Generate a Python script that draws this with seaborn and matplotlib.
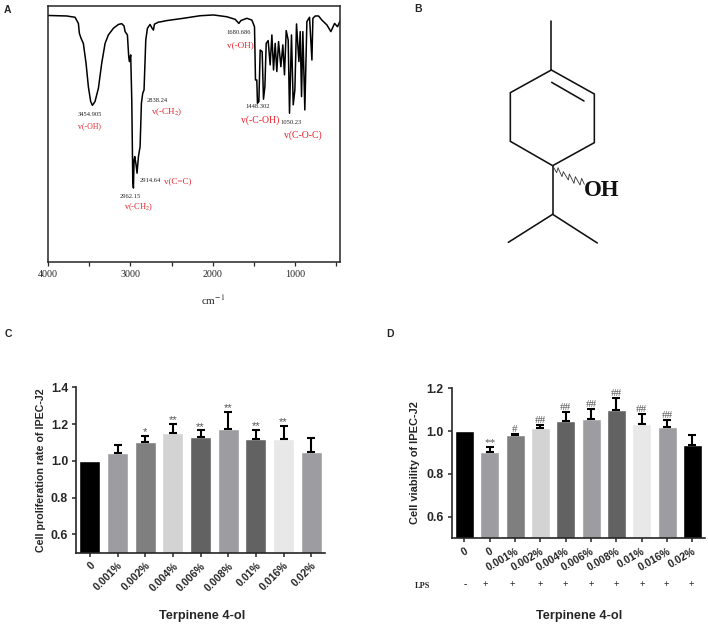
import matplotlib
matplotlib.use("Agg")
import matplotlib.pyplot as plt
import numpy as np
import pandas as pd
import seaborn as sns

sns.set_style("ticks")
plt.rcParams['font.family'] = ['Liberation Sans', 'DejaVu Sans']
plt.rcParams['mathtext.fontset'] = 'stix'

W, H = 708, 625

# panel A, FTIR trace
wavenumber = [4000, 3773, 3672, 3631, 3619, 3599, 3571, 3538, 3510, 3482, 3461, 3429, 3388, 3348, 3307, 3267,
              3206, 3145, 3105, 3077, 3064, 3036, 3020, 3012, 2996, 2983, 2971, 2963, 2955, 2947, 2931, 2919,
              2902, 2882, 2866, 2850, 2834, 2813, 2793, 2761, 2736, 2720, 2708, 2659, 2619, 2558, 2356, 2153,
              1991, 1829, 1728, 1683, 1659, 1586, 1525, 1493, 1481, 1465, 1457, 1440, 1424, 1400, 1384, 1367,
              1351, 1327, 1303, 1282, 1262, 1242, 1222, 1201, 1173, 1149, 1129, 1108, 1084, 1068, 1044, 1023,
              1003, 983, 954, 938, 922, 906, 882, 857, 825, 796, 784, 756, 715, 675, 614, 566, 521, 485, 452]
transmittance = [96.3, 96.1, 95.6, 93.2, 89.3, 87.4, 85.4, 77.6, 68.5, 62.7, 61.2, 62.7, 67.9, 77.6, 85.4, 88.7,
                 91.3, 92.8, 93.1, 92.2, 90.0, 88.7, 80.2, 78.3, 80.9, 63.3, 32.1, 28.9, 39.9, 41.2, 38.0, 34.7,
                 41.2, 45.1, 62.0, 65.9, 67.2, 86.7, 91.3, 92.8, 91.3, 90.6, 92.9, 93.7, 93.9, 94.3, 95.2, 96.2,
                 96.5, 95.8, 94.8, 93.2, 94.3, 95.2, 94.5, 91.9, 71.1, 71.1, 62.0, 62.7, 82.8, 82.2, 63.6, 68.5,
                 85.4, 86.5, 77.0, 88.7, 75.0, 85.4, 74.4, 86.1, 76.3, 84.8, 73.1, 90.4, 86.7, 58.1, 88.7, 61.4,
                 67.2, 93.0, 78.3, 90.0, 64.6, 90.0, 59.4, 93.9, 95.6, 78.9, 95.2, 96.1, 96.1, 94.5, 92.6, 90.0,
                 93.2, 91.9, 94.3]
ir_ticks = [4000, 3000, 2000, 1000]
ir_minor = [3500, 2500, 1500, 500]

peak_labels = ["3454.905", "2962.15", "2914.64", "2838.24", "1680.686", "1448.302", "1050.23"]
peak_x = [90, 130, 150, 157, 239, 258, 291]
peak_y = [114, 196, 180, 100, 33, 107, 123]
group_labels = ["v(-OH)", "v(-CH$_2$)", "v(C=C)", "v(-CH$_2$)", "v(-OH)", "v(-C-OH)", "v(C-O-C)"]
group_x = [89, 139, 178, 167, 240, 260, 303]
group_y = [126, 207, 181, 112, 45, 120, 135]
group_size = [5.6, 6, 6.5, 6.5, 6.6, 7, 7]

# panel C
c_labels = ["0", "0.001%", "0.002%", "0.004%", "0.006%", "0.008%", "0.01%", "0.016%", "0.02%"]
c_values = [1.0, 1.04, 1.10, 1.15, 1.13, 1.175, 1.12, 1.12, 1.05]
c_tops = [1.0, 1.085, 1.135, 1.20, 1.165, 1.265, 1.17, 1.19, 1.125]
c_marks = ["", "", "*", "**", "**", "**", "**", "**", ""]
c_colors = ["#000000", "#9d9da1", "#7f7f7f", "#d3d3d3", "#626262", "#9d9da1", "#626262", "#e8e8e8", "#9d9da1"]

# panel D
d_labels = ["0", "0", "0.001%", "0.002%", "0.004%", "0.006%", "0.008%", "0.01%", "0.016%", "0.02%"]
d_values = [1.0, 0.90, 0.98, 1.015, 1.045, 1.055, 1.10, 1.035, 1.02, 0.935]
d_tops = [1.0, 0.925, 0.985, 1.03, 1.09, 1.105, 1.155, 1.08, 1.05, 0.98]
d_marks = ["", "**", "#", "##", "##", "##", "##", "##", "##", ""]
d_colors = ["#000000", "#9d9da1", "#7f7f7f", "#d3d3d3", "#626262", "#9d9da1", "#626262", "#e8e8e8", "#9d9da1", "#000000"]
lps_signs = ["-", "+", "+", "+", "+", "+", "+", "+", "+", "+"]
lps_x = [465, 485, 512, 540, 565, 591, 616, 642, 666, 691]

# panel B structure, points as measured on the drawing
bonds = [[(454, 62), (454, 210)],
         [(454, 210), (583, 282), (583, 428), (458, 497), (331, 424), (331, 278), (454, 210)],
         [(455, 247), (552, 303)],
         [(458, 497), (458, 643)],
         [(325, 727), (458, 643), (592, 729)]]
wavy = [(458, 497), (470, 518), (474, 503), (486, 530), (490, 515), (505, 540), (508, 522), (522, 550),
        (526, 530), (540, 555), (545, 535), (553, 553)]


def box(left, top, right, bottom):
    return [left / W, 1 - bottom / H, (right - left) / W, (bottom - top) / H]


def bars(ax, labels, values, tops, colors, marks, ymax, yticks, rotation, mark_font, mark_gap):
    pos = list(range(len(values)))
    df = pd.DataFrame({"pos": pos, "value": values})
    sns.barplot(data=df, x="pos", y="value", hue="pos", palette=colors, legend=False,
                dodge=False, width=0.75, saturation=1, ax=ax)
    # upper error bars only, drawn in dark like the original
    for i in pos:
        if tops[i] > values[i]:
            ax.errorbar(i, values[i], yerr=[[0], [tops[i] - values[i]]], color="black",
                        elinewidth=1.5, capsize=3.2, capthick=1.5, zorder=1)
        if marks[i]:
            ax.annotate(marks[i], (i, tops[i]), xytext=(0, mark_gap), textcoords="offset points",
                        ha="center", va="bottom", fontsize=8, color="#555555", family=mark_font)
    ax.set_xlim(-0.5, len(values) - 0.5)
    ax.set_ylim(0.5, ymax)
    ax.set_yticks(yticks)
    ax.set_yticklabels(["%.1f" % t for t in yticks], fontsize=8.8, fontweight="semibold")
    ax.set_xticks(pos)
    ax.set_xticklabels(labels, rotation=rotation, ha="right", rotation_mode="anchor",
                       fontsize=7.6, fontweight="bold")
    ax.set_xlabel("")
    ax.set_ylabel("")
    ax.tick_params(length=3.2, width=1.1, pad=2.5)
    for s in ["left", "bottom"]:
        ax.spines[s].set_linewidth(1.2)
    sns.despine(ax=ax)


fig = plt.figure(figsize=(7.08, 6.25), dpi=100)

# overlay in image pixels for the free text and the structure
page = fig.add_axes([0, 0, 1, 1], zorder=5)
page.set_xlim(0, W)
page.set_ylim(H, 0)
page.axis("off")

# A
ax_a = fig.add_axes(box(48, 6, 340, 262))
ir = pd.DataFrame({"wn": wavenumber, "t": transmittance})
sns.lineplot(data=ir, x="wn", y="t", sort=False, estimator=None, color="black", linewidth=1.1, ax=ax_a)
ax_a.set_xlim(4000, 455)
ax_a.set_ylim(0, 100)
ax_a.set_yticks([])
ax_a.set_xticks(ir_ticks)
ax_a.set_xticks(ir_minor, minor=True)
ax_a.set_xticklabels([str(t) for t in ir_ticks], fontsize=7.2, family="Liberation Serif")
ax_a.tick_params(axis="x", which="both", length=3, width=0.9, pad=3)
ax_a.set_xlabel("")
ax_a.set_ylabel("")
for s in ax_a.spines.values():
    s.set_linewidth(1.1)

for txt, x, y in zip(peak_labels, peak_x, peak_y):
    page.text(x, y, txt, fontsize=4.7, family="Liberation Serif", ha="center", va="center", color="#222222")
for txt, x, y, fs in zip(group_labels, group_x, group_y, group_size):
    page.text(x, y, txt, fontsize=fs, family="Liberation Serif", ha="center", va="center", color="#e8202a")
page.text(213, 300, "cm$^{-1}$", fontsize=8, family="Liberation Serif", ha="center", va="center")

# B
for line in bonds:
    xs = [400 + p[0] / 3 for p in line]
    ys = [p[1] / 3 for p in line]
    page.plot(xs, ys, color="#111111", linewidth=1.15, solid_joinstyle="miter")
page.plot([400 + p[0] / 3 for p in wavy], [p[1] / 3 for p in wavy], color="#333333", linewidth=0.6)
page.text(602, 190, "OH", fontsize=16.5, fontweight="bold", family="Liberation Serif", ha="center", va="center", color="#111111")

# C
ax_c = fig.add_axes(box(76, 387.3, 325, 552.7))
bars(ax_c, c_labels, c_values, c_tops, c_colors, c_marks, 1.4, [0.6, 0.8, 1.0, 1.2, 1.4], 45, "Liberation Sans", -1)
page.text(41, 470, "Cell proliferation rate of IPEC-J2", rotation=90, fontsize=7.7, fontweight="bold", ha="center", va="center")
page.text(202, 616, "Terpinene 4-ol", fontsize=9.2, fontweight="bold", ha="center", va="center")

# D
ax_d = fig.add_axes(box(451.7, 388.3, 705, 538))
bars(ax_d, d_labels, d_values, d_tops, d_colors, d_marks, 1.2, [0.6, 0.8, 1.0, 1.2], 30, "Liberation Serif", 0)
page.text(415, 463, "Cell viability of IPEC-J2", rotation=90, fontsize=7.9, fontweight="semibold", ha="center", va="center")
page.text(579, 616, "Terpinene 4-ol", fontsize=9.2, fontweight="bold", ha="center", va="center")
page.text(423, 586, "LPS", fontsize=6, fontweight="bold", family="Liberation Serif", ha="center", va="center")
for sign, x in zip(lps_signs, lps_x):
    page.text(x, 585, sign, fontsize=7, fontweight="bold", family="Liberation Serif", ha="center", va="center")

# panel letters
for letter, x, y in [("A", 7, 10), ("B", 418, 9), ("C", 8, 334), ("D", 390, 334)]:
    page.text(x, y, letter, fontsize=7.5, fontweight="bold", ha="center", va="center")

fig.savefig("out.png", dpi=100)
